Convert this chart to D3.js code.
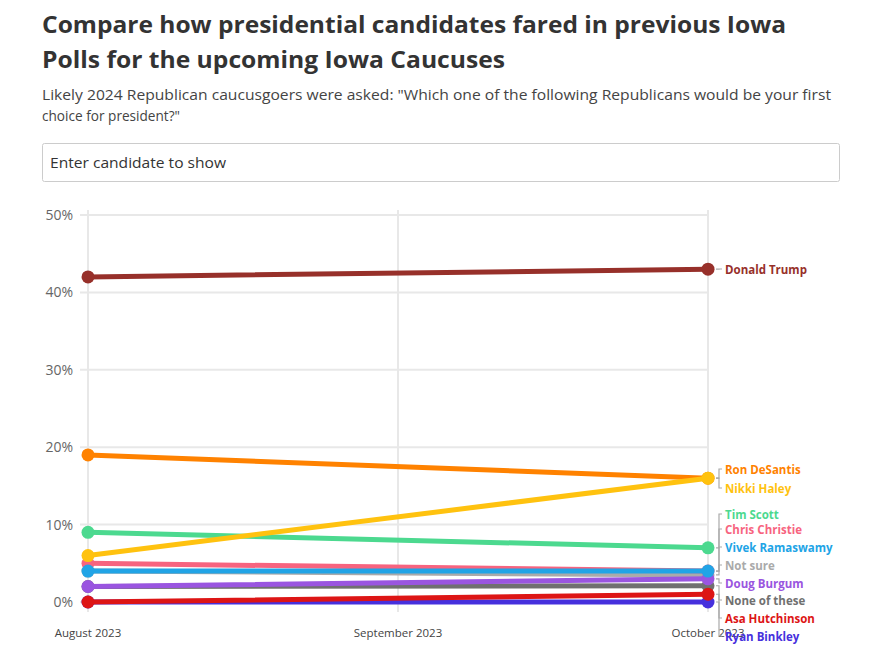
<!DOCTYPE html>
<html><head><meta charset="utf-8">
<script src="https://cdn.jsdelivr.net/npm/d3@7"></script>
<style>
body{margin:0;background:#fff;font-family:"Open Sans","Noto Sans",sans-serif;}
</style></head>
<body><svg id="c" width="871" height="663"></svg>
<script>
const months = ["August 2023","September 2023","October 2023"];
const pollMonths = ["August 2023","October 2023"];
const candidates = ["Donald Trump","Ron DeSantis","Nikki Haley","Tim Scott","Chris Christie","Vivek Ramaswamy","Not sure","Doug Burgum","None of these","Asa Hutchinson","Ryan Binkley"];
const augValues = [42,19,6,9,5,4,4,2,2,0,0];
const octValues = [43,16,16,7,4,4,3.5,3,2.1,1,0];
const colors = ["#97302a","#ff8200","#ffc20f","#4cd98f","#f7647f","#21a4e6","#aaaaaa","#9a55e0","#707070","#dd1515","#4630dd"];
const labelY = [269,469,488,514,529,547,565,583,600,618,636];
const yTicks = [0,10,20,30,40,50];
const drawOrder = [10,8,6,4,7,9,5,3,1,2,0];

const svg = d3.select("#c");

// title
const title = ["Compare how presidential candidates fared in previous Iowa","Polls for the upcoming Iowa Caucuses"];
title.forEach((t,i)=>svg.append("text").attr("x",42).attr("y",33+i*35).text(t)
  .attr("font-family",'"Open Sans",sans-serif').attr("font-weight",700).attr("font-size",24).attr("fill","#333")
  .attr("textLength", i==0?744:463).attr("lengthAdjust","spacingAndGlyphs"));
const sub = ['Likely 2024 Republican caucusgoers were asked: "Which one of the following Republicans would be your first','choice for president?"'];
sub.forEach((t,i)=>svg.append("text").attr("x",42).attr("y",100+i*21).text(t)
  .attr("font-family",'"Open Sans",sans-serif').attr("font-size",15).attr("fill","#444")
  .attr("textLength", i==0?789:138).attr("lengthAdjust","spacingAndGlyphs"));

// input box
svg.append("rect").attr("x",42.5).attr("y",143.5).attr("width",797).attr("height",38).attr("rx",2)
  .attr("fill","#fff").attr("stroke","#cccccc");
svg.append("text").attr("x",50).attr("y",168).text("Enter candidate to show")
  .attr("font-family",'"Open Sans",sans-serif').attr("font-size",15).attr("fill","#333")
  .attr("textLength",176).attr("lengthAdjust","spacingAndGlyphs");

const x = d3.scalePoint().domain(months).range([88,708]);
const y = d3.scaleLinear().domain([0,50]).range([602,215]);

// grid
const g = svg.append("g");
g.selectAll("line.h").data(yTicks).join("line").attr("x1",80).attr("x2",708)
  .attr("y1",d=>y(d)).attr("y2",d=>y(d)).attr("stroke","#e8e8e8").attr("stroke-width",2);
g.selectAll("line.v").data(months).join("line").attr("x1",d=>x(d)).attr("x2",d=>x(d))
  .attr("y1",210).attr("y2",612).attr("stroke","#e8e8e8").attr("stroke-width",2);
g.selectAll("text.yt").data(yTicks).join("text").attr("x",73).attr("y",d=>y(d)+5)
  .attr("text-anchor","end").text(d=>d+"%").attr("font-family",'"Open Sans",sans-serif')
  .attr("font-size",14).attr("fill","#666");
g.selectAll("text.xt").data(months).join("text").attr("x",d=>x(d)).attr("y",637)
  .attr("text-anchor","middle").text(d=>d).attr("font-family",'"Open Sans",sans-serif')
  .attr("font-size",11.5).attr("fill","#444");

// leaders
const lg = svg.append("g");
candidates.forEach((c,i)=>{
  const py = y(octValues[i]), ly = labelY[i];
  lg.append("path").attr("d",`M716,${py}H719V${ly}H722`).attr("fill","none")
    .attr("stroke","#aaaaaa").attr("stroke-width",1.2);
});

// lines
const line = d3.line().x(d=>x(d.m)).y(d=>y(d.v));
drawOrder.forEach(i=>{
  const pts = [{m:pollMonths[0],v:augValues[i]},{m:pollMonths[1],v:octValues[i]}];
  svg.append("path").attr("d",line(pts)).attr("fill","none").attr("stroke",colors[i])
    .attr("stroke-width",5).attr("stroke-linecap","round");
  svg.selectAll(null).data(pts).join("circle").attr("cx",d=>x(d.m)).attr("cy",d=>y(d.v))
    .attr("r",6.5).attr("fill",colors[i]);
});

// labels
candidates.forEach((c,i)=>{
  svg.append("text").attr("x",725).attr("y",labelY[i]+4.5).text(c)
    .attr("font-family",'"Open Sans",sans-serif').attr("font-weight",700).attr("font-size",11.5)
    .attr("fill",colors[i]);
});
</script></body></html>
